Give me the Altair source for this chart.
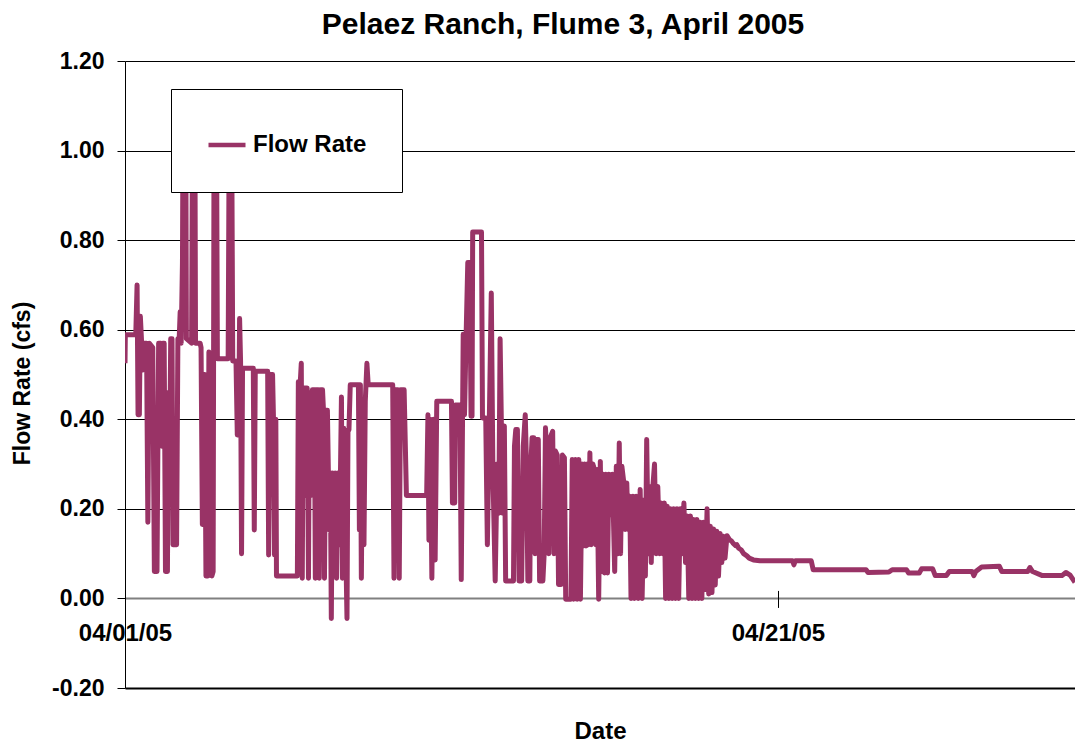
import altair as alt
import pandas as pd

# ---- data (days after 04/01/05, flow rate in cfs) ----
days = [
    0.00, 0.01, 0.33, 0.37, 0.40, 0.44, 0.47, 0.55, 0.58, 0.66, 0.70, 0.74, 0.85, 0.90, 0.98,
    1.03, 1.10, 1.13, 1.16, 1.20, 1.24, 1.30, 1.33, 1.36, 1.40, 1.44, 1.47, 1.58, 1.62, 1.66,
    1.69, 1.72, 1.76, 1.78, 1.86, 1.88, 2.04, 2.07, 2.14, 2.16, 2.30, 2.33, 2.37, 2.40, 2.44,
    2.48, 2.54, 2.57, 2.62, 2.66, 2.70, 2.73, 2.80, 2.83, 3.16, 3.19, 3.27, 3.30, 3.40, 3.44,
    3.48, 3.51, 3.54, 3.57, 3.60, 3.93, 3.96, 3.99, 4.37, 4.40, 4.44, 4.52, 4.55, 4.58, 4.62,
    4.64, 5.28,
    5.31, 5.36, 5.40, 5.43, 5.46, 5.52, 5.55, 5.58, 5.62, 5.65, 5.70, 5.74, 5.80, 5.83, 5.86,
    5.92, 5.95, 5.99, 6.05, 6.08, 6.11, 6.15, 6.20, 6.23, 6.26, 6.29, 6.32, 6.35, 6.40, 6.44,
    6.48, 6.52, 6.56, 6.60, 6.63, 6.66, 6.70, 6.80, 6.83, 6.86, 6.90, 7.15, 7.18, 7.21, 7.24,
    7.28, 7.32, 7.36, 7.41, 7.45, 8.20, 8.24, 8.28, 8.36, 8.40, 8.44, 8.55, 8.62, 9.24, 9.28,
    9.31, 9.35, 9.40, 9.45, 9.50, 9.55, 10.00, 10.03, 10.10, 10.12, 10.26, 10.30,
    10.36, 10.40, 10.45, 10.50, 10.56, 10.60, 10.63, 10.65, 10.92, 10.95, 11.05, 11.10, 11.16,
    11.22, 11.27, 11.34, 11.40, 11.45, 11.49, 11.53, 11.58, 11.62, 11.66, 11.90, 11.93, 11.97,
    12.02, 12.07, 12.15, 12.20, 12.26, 12.30, 12.34, 12.40, 12.43, 12.47, 12.52, 12.56, 12.60,
    12.66, 12.70, 12.80, 12.84, 12.88, 12.93, 12.98, 13.03, 13.10, 13.14, 13.18, 13.24, 13.28,
    13.36, 13.40, 13.46, 13.50, 13.66, 13.70, 13.74, 13.80, 13.85, 13.90, 13.95, 14.00, 14.04,
    14.08, 14.12, 14.16, 14.20, 14.24, 14.28, 14.33, 14.38, 14.42, 14.46, 14.51, 14.56, 14.60,
    14.65, 14.69, 14.73, 14.78, 14.82, 14.88, 14.93, 15.00, 15.05, 15.10, 15.14, 15.18, 15.22,
    15.28, 15.32, 15.37, 15.41,
    15.46, 15.50, 15.56, 15.60, 15.66, 15.72, 15.78, 15.84, 15.90, 15.94, 15.98, 16.03, 16.07,
    16.12, 16.17, 16.22, 16.27, 16.32, 16.38, 16.42, 16.47, 16.52, 16.56, 16.61, 16.66, 16.71,
    16.76, 16.81, 16.86, 16.91, 16.96, 17.01, 17.06, 17.12, 17.17, 17.22, 17.27, 17.32, 17.37,
    17.42, 17.47, 17.52, 17.57, 17.62, 17.67, 17.72, 17.77, 17.83, 17.88, 17.93, 17.98, 18.03,
    18.08, 18.13, 18.18, 18.23, 18.28, 18.33, 18.38, 18.44, 18.52, 18.58, 18.62, 18.70, 18.74,
    18.80, 18.88, 18.95, 19.05, 19.12, 19.25, 19.45,
    20.45, 20.49, 20.53, 21.02, 21.08, 22.70, 22.76, 23.40, 23.50, 23.94, 24.00, 24.33, 24.40,
    24.74, 24.82, 25.16, 25.25, 25.95, 26.00, 26.06, 26.24, 26.78, 26.86, 27.65, 27.72, 27.80,
    28.10, 28.70, 28.82, 28.95, 29.10,
]

flow = [
    0.525, 0.589, 0.589, 0.70, 0.41, 0.41, 0.63, 0.51, 0.57, 0.57, 0.17, 0.57, 0.56, 0.06, 0.06,
    0.57, 0.57, 0.34, 0.57, 0.57, 0.06, 0.06, 0.46, 0.23, 0.58, 0.58, 0.12, 0.12, 0.58, 0.58,
    0.64, 0.57, 0.75, 1.10, 1.10, 0.58, 0.57, 1.08, 1.08, 0.57, 0.57, 0.56, 0.165, 0.50, 0.50,
    0.05, 0.05, 0.55, 0.52, 0.05, 0.06, 1.12, 1.12, 0.535, 0.535, 1.02, 1.02, 0.53, 0.53, 0.365,
    0.365, 0.625, 0.53, 0.10, 0.514, 0.514, 0.153, 0.507, 0.507, 0.097, 0.50, 0.50, 0.395, 0.097, 0.40,
    0.05, 0.05,
    0.484, 0.47, 0.525, 0.045, 0.47, 0.47, 0.23, 0.47, 0.045, 0.46, 0.23, 0.466, 0.466, 0.045, 0.466,
    0.466, 0.045, 0.466, 0.466, 0.42, 0.045, 0.42, 0.42, 0.28, 0.153, 0.28, -0.045, 0.28, 0.153, 0.28,
    0.045, 0.28, 0.12, 0.28, 0.45, 0.045, 0.38, -0.045, 0.376, 0.376, 0.477, 0.477, 0.153, 0.477, 0.045,
    0.43, 0.12, 0.44, 0.525, 0.477, 0.477, 0.045, 0.466, 0.466, 0.045, 0.466, 0.466, 0.23, 0.23, 0.41,
    0.13, 0.40, 0.045, 0.40, 0.086, 0.44, 0.44, 0.213, 0.213, 0.432, 0.432, 0.042,
    0.59, 0.41, 0.59, 0.75, 0.75, 0.407, 0.407, 0.818, 0.818, 0.403, 0.403, 0.12, 0.40,
    0.682, 0.28, 0.039, 0.30, 0.19, 0.58, 0.385, 0.19, 0.385, 0.039, 0.039, 0.34, 0.377,
    0.377, 0.039, 0.039, 0.34, 0.41, 0.295, 0.039, 0.039, 0.295, 0.359, 0.359, 0.10, 0.355,
    0.355, 0.039, 0.039, 0.10, 0.381, 0.30, 0.10, 0.36, 0.373, 0.10, 0.33, 0.32, 0.031,
    0.031, 0.32, 0.314, -0.002, -0.002, 0.31, -0.002, 0.31, -0.002, 0.31, -0.002, 0.30, 0.117,
    0.30, 0.117, 0.30, 0.12, 0.325, 0.12, 0.30, 0.288, 0.12, 0.288, -0.002, 0.306, 0.06,
    0.277, 0.057, 0.277, 0.057, 0.277, 0.187, 0.277, 0.06, 0.295, 0.10, 0.347, 0.10, 0.295,
    0.258, 0.154, 0.258, 0.154,
    0.228, 0.0, 0.228, 0.0, 0.228, 0.0, 0.243, 0.0, 0.22, 0.05, 0.355, 0.10, 0.25,
    0.08, 0.25, 0.30, 0.10, 0.25, 0.10, 0.213, 0.10, 0.213, 0.0, 0.206, 0.0, 0.20,
    0.0, 0.20, 0.0, 0.20, 0.0, 0.20, 0.10, 0.213, 0.08, 0.184, 0.0, 0.184, 0.0,
    0.176, 0.0, 0.176, 0.0, 0.17, 0.0, 0.17, 0.02, 0.20, 0.01, 0.161, 0.013, 0.155,
    0.03, 0.15, 0.05, 0.145, 0.08, 0.139, 0.09, 0.14, 0.131, 0.128, 0.124, 0.118, 0.12,
    0.112, 0.108, 0.100, 0.095, 0.09, 0.086, 0.084,
    0.084, 0.075, 0.084, 0.084, 0.064, 0.064, 0.058, 0.059, 0.064, 0.064, 0.057, 0.057, 0.066,
    0.066, 0.051, 0.051, 0.06, 0.06, 0.051, 0.06, 0.07, 0.072, 0.06, 0.06, 0.069, 0.06,
    0.051, 0.051, 0.058, 0.052, 0.036,
]

series_name = "Flow Rate"
y_ticks = [-0.2, 0.0, 0.2, 0.4, 0.6, 0.8, 1.0, 1.2]
y_domain = [-0.2, 1.2]
x_ticks = [0, 20]          # 04/01/05 and 04/21/05
x_domain = [0, 29.1]

df = pd.DataFrame({"day": days, "flow": flow, "series": series_name})

FONT = "Liberation Sans"
W, H = 950, 627
zero_from_bottom = H * (0 - y_domain[0]) / (y_domain[1] - y_domain[0])

grid_color = {"condition": {"test": "abs(datum.value) < 1e-9", "value": "#808080"}, "value": "#000000"}
grid_width = {"condition": {"test": "datum.value < 0.001", "value": 2}, "value": 1}

chart = alt.Chart(df).mark_line(
    strokeWidth=5, strokeJoin="round", clip=True
).encode(
    x=alt.X(
        "day:Q",
        scale=alt.Scale(domain=x_domain, nice=False, zero=False),
        axis=alt.Axis(
            values=x_ticks,
            labelExpr="timeFormat(datetime(2005, 3, 1 + datum.value), '%m/%d/%y')",
            offset=-(zero_from_bottom + 8),
            domain=False, grid=False,
            tickSize=17, tickColor="#000000", tickWidth=1,
            labelPadding=14, labelFont=FONT, labelFontSize=24, labelFontWeight="bold",
            labelColor="#000000", labelFlush=False, labelOverlap=False,
            title="Date", titleFont=FONT, titleFontSize=24, titleFontWeight="bold",
            titleColor="#000000", titleY=148, titleBaseline="alphabetic",
        ),
    ),
    y=alt.Y(
        "flow:Q",
        scale=alt.Scale(domain=y_domain, nice=False, zero=False),
        axis=alt.Axis(
            values=y_ticks,
            labelExpr="datum.value < 0 ? '-' + format(-datum.value, '.2f') : format(datum.value, '.2f')",
            domainColor="#000000", domainWidth=1,
            tickColor="#000000", tickSize=8, tickWidth=1,
            labelPadding=13, labelFont=FONT, labelFontSize=23, labelFontWeight="bold",
            labelColor="#000000", labelFlush=False, labelOverlap=False,
            grid=True, gridColor=grid_color, gridWidth=grid_width, gridOpacity=1,
            title="Flow Rate (cfs)", titleFont=FONT, titleFontSize=23, titleFontWeight="bold",
            titleColor="#000000", titleAngle=270, titleX=-103, titleY=322,
            titleAlign="center", titleBaseline="middle",
        ),
    ),
    color=alt.Color(
        "series:N",
        scale=alt.Scale(range=["#993366"]),
        legend=alt.Legend(
            title=None, orient="none", legendX=46, legendY=28,
            fillColor="#ffffff", strokeColor="#000000", padding=35,
            symbolType="stroke", symbolSize=1369, symbolStrokeWidth=4.5,
            labelFont=FONT, labelFontSize=24, labelFontWeight="bold", labelColor="#000000",
            labelOffset=5,
        ),
    ),
).properties(
    width=W, height=H,
    autosize=alt.AutoSizeParams(type="none"),
    padding={"left": 125, "top": 61, "right": 0, "bottom": 58},
    title=alt.TitleParams(
        "Pelaez Ranch, Flume 3, April 2005",
        font=FONT, fontSize=30, fontWeight="bold", color="#000000",
        anchor="middle", dx=-37, dy=30, baseline="alphabetic", offset=16,
    ),
    background="#ffffff",
).configure_view(strokeWidth=0)

chart.save("out.html", embed_options={"renderer": "svg", "actions": False})
